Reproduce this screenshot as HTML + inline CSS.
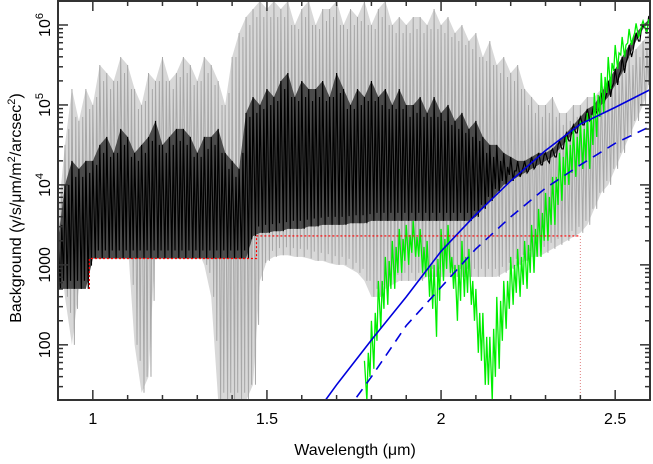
<!DOCTYPE html>
<html><head><meta charset="utf-8"><style>
body{margin:0;background:#fff;}
svg{display:block;font-family:"Liberation Sans",sans-serif;}
</style></head><body>
<svg id="chart" width="653" height="464" viewBox="0 0 653 464">
<defs><clipPath id="pc"><rect x="58" y="1" width="592" height="399"/></clipPath></defs>
<rect x="0" y="0" width="653" height="464" fill="#fff"/>
<g id="plot" clip-path="url(#pc)"></g>
<g id="axes"></g>
<text x="355" y="455" font-size="16" text-anchor="middle" fill="#000">Wavelength (μm)</text>
<text transform="translate(21,208) rotate(-90)" font-size="16" text-anchor="middle" fill="#000">Background (γ/s/μm/m<tspan dy="-6" font-size="11">2</tspan><tspan dy="6">/arcsec</tspan><tspan dy="-6" font-size="11">2</tspan><tspan dy="6">)</tspan></text>
</svg>
<script>
// wavelength grid (µm), step 0.02 from 0.90 to 2.60
const lam = [];
for (let i = 0; i <= 85; i++) lam.push(+(0.9 + i * 0.02).toFixed(2));
// log10 values
const grayHiLog = [3.6,4.5,5.2,4.8,5.2,5.0,5.5,5.4,5.3,5.6,5.5,5.2,5.0,5.4,5.3,5.6,5.3,5.4,5.6,5.5,5.3,5.6,5.5,5.3,5.0,5.6,5.9,6.1,6.2,6.3,6.2,6.3,6.2,6.3,6.0,6.2,6.3,6.0,6.2,6.2,6.3,6.0,6.2,6.1,6.3,6.0,6.2,6.3,6.0,6.1,6.0,6.1,6.1,6.0,6.2,6.0,6.1,5.9,6.0,5.8,5.9,5.6,5.8,5.5,5.6,5.4,5.5,5.2,5.1,5.0,5.0,5.1,4.9,4.9,5.0,5.0,5.1,5.1,5.2,5.3,5.4,5.5,5.6,5.7,5.8,5.9];
const grayLoLog = [3.4,2.6,2.0,2.7,2.9,3.2,3.4,3.4,3.4,3.4,3.3,2.0,1.4,1.6,3.3,3.4,3.5,3.4,3.4,3.3,3.2,3.0,2.6,1.3,1.3,1.3,1.3,1.3,1.5,2.8,3.05,3.1,3.12,3.12,3.1,3.1,3.08,3.05,3.05,3.02,3.0,3.0,2.95,2.9,2.8,2.6,2.6,2.7,2.75,2.8,2.8,2.8,2.8,2.85,2.85,2.85,2.85,2.85,2.85,2.85,2.85,2.85,2.85,2.85,2.9,2.95,3.0,3.05,3.1,3.1,3.15,3.2,3.25,3.3,3.35,3.4,3.5,3.7,3.9,4.0,4.2,4.4,4.6,4.8,5.0,5.3];
const blackHiLog = [3.3,4.0,4.3,4.2,4.3,4.3,4.5,4.6,4.4,4.7,4.6,4.4,4.5,4.6,4.8,4.5,4.6,4.7,4.7,4.6,4.4,4.6,4.6,4.7,4.4,4.3,4.2,4.9,5.1,5.0,5.2,5.1,5.3,5.4,5.1,5.3,5.2,5.2,5.3,5.1,5.4,5.2,5.0,5.2,5.1,5.3,5.1,5.2,5.0,5.2,5.0,5.0,5.1,4.9,5.1,4.9,5.0,4.8,4.9,4.7,4.8,4.6,4.5,4.5,4.4,4.35,4.3,4.3,4.35,4.4,4.4,4.45,4.55,4.65,4.75,4.85,4.95,5.0,5.15,5.3,5.45,5.6,5.75,5.9,6.0,6.08];
const blackLoLog = [2.7,2.7,2.7,2.7,2.7,3.08,3.08,3.08,3.08,3.08,3.08,3.08,3.08,3.08,3.08,3.08,3.08,3.08,3.08,3.08,3.08,3.08,3.08,3.08,3.08,3.08,3.08,3.08,3.36,3.4,3.4,3.42,3.42,3.45,3.45,3.45,3.48,3.48,3.5,3.5,3.5,3.5,3.52,3.52,3.52,3.55,3.55,3.55,3.55,3.55,3.55,3.55,3.55,3.55,3.55,3.55,3.55,3.55,3.55,3.55,3.6,3.7,3.8,3.9,4.0,4.05,4.1,4.15,4.2,4.25,4.3,4.35,4.45,4.55,4.65,4.75,4.8,4.9,5.0,5.1,5.25,5.4,5.6,5.8,5.95,6.05];
// green: 1.78 .. 2.60
const greenLam = [];
for (let i = 0; i <= 41; i++) greenLam.push(+(1.78 + i * 0.02).toFixed(2));
const greenHiLog = [1.8,2.3,2.8,3.1,3.3,3.45,3.5,3.55,3.45,3.3,3.0,3.45,3.5,3.0,3.3,3.2,2.7,2.4,2.1,2.6,2.8,3.1,3.2,3.3,3.5,3.7,3.9,4.1,4.4,4.6,4.7,4.8,4.9,5.15,5.4,5.6,5.75,5.85,5.95,6.02,6.05,6.07];
const greenLoLog = [1.3,1.7,2.2,2.5,2.7,2.9,3.0,3.1,2.9,2.6,2.1,2.8,2.9,2.3,2.6,2.5,1.9,1.5,1.3,1.7,2.2,2.5,2.6,2.7,2.9,3.1,3.3,3.5,3.8,4.0,4.1,4.2,4.2,4.6,4.9,5.2,5.45,5.6,5.75,5.85,5.95,5.98];
// blue model curves
const blueLam = [1.6,1.7,1.8,1.9,2.0,2.1,2.2,2.3,2.4,2.5,2.6];
const blueLog = [0.9,1.5,2.06,2.6,3.17,3.63,4.05,4.43,4.76,4.97,5.19];
const dashLam = [1.7,1.75,1.8,1.9,2.0,2.1,2.2,2.3,2.4,2.5,2.6];
const dashLog = [1.0,1.3,1.6,2.24,2.72,3.2,3.6,3.96,4.25,4.52,4.73];
// red threshold steps
const redLam = [0.99,1.47,2.40];
const redVal = [500,1200,2300];
// axis ticks
const xMajor = [1,1.5,2,2.5];
const xLabels = ["1","1.5","2","2.5"];
const yMajorExp = [2,3,4,5,6];

const X0=58,X1=650,Y0=1,Y1=400, LMIN=0.9,LMAX=2.6, EMIN=1.31,EMAX=6.3;
const sx = l => X0 + (l-LMIN)/(LMAX-LMIN)*(X1-X0);
const sy = e => Y1 - (e-EMIN)/(EMAX-EMIN)*(Y1-Y0);
const NS='http://www.w3.org/2000/svg';
const plot=document.getElementById('plot'), axes=document.getElementById('axes');
function mk(tag, parent, attrs){const el=document.createElementNS(NS,tag);for(const k in attrs)el.setAttribute(k,attrs[k]);parent.appendChild(el);return el;}

function band(L, hi, lo, fill, stroke, sw, name){
  let pts=[];
  for(let i=0;i<L.length;i++)pts.push(sx(L[i])+','+sy(hi[i]));
  for(let i=L.length-1;i>=0;i--)pts.push(sx(L[i])+','+sy(lo[i]));
  const p=mk('polygon',plot,{points:pts.join(' '),fill:fill,stroke:'none'});
  
  
  let z=[];
  for(let i=0;i<L.length;i++){
    const d=(i<L.length-1)?(L[i+1]-L[i]):0;
    z.push(sx(L[i])+','+sy(hi[i]));
    z.push(sx(L[i]+d*0.35)+','+sy(lo[i]));
    if(i<L.length-1){
      z.push(sx(L[i]+d*0.55)+','+sy((hi[i]+hi[i+1])/2-0.15));
      z.push(sx(L[i]+d*0.8)+','+sy((lo[i]+lo[i+1])/2+0.1));
    }
  }
  const l=mk('polyline',plot,{points:z.join(' '),fill:'none',stroke:stroke,'stroke-width':sw});
  
  
}
band(lam, grayHiLog, grayLoLog, '#d8d8d8', '#a8a8a8', 1, 'gray-spectrum');
band(lam, blackHiLog, blackLoLog, '#4a4a4a', '#000', 1.2, 'black-spectrum');
band(greenLam, greenHiLog, greenLoLog, 'none', '#00ee00', 1.3, 'green-spectrum');

function curve(L, V, dash, name){
  const pts=L.map((l,i)=>sx(l)+','+sy(V[i])).join(' ');
  const a={points:pts,fill:'none',stroke:'#0000dd','stroke-width':1.6};
  if(dash)a['stroke-dasharray']='10,7';
  const c=mk('polyline',plot,a);
  
  
}
curve(blueLam, blueLog, false, 'blue-model-solid');
curve(dashLam, dashLog, true, 'blue-model-dashed');

// red dotted steps
let rp=[];
for(let i=0;i<redLam.length;i++){
  rp.push(sx(redLam[i])+','+sy(Math.log10(redVal[i])));
  if(i+1<redVal.length) rp.push(sx(redLam[i])+','+sy(Math.log10(redVal[i+1])));
}
const red=mk('polyline',plot,{points:rp.join(' '),fill:'none',stroke:'#ff0000','stroke-width':1.2,'stroke-dasharray':'2,2'});


const vl=mk('line',plot,{x1:sx(redLam[2]),x2:sx(redLam[2]),y1:sy(Math.log10(redVal[2])),y2:Y1,stroke:'#e08080','stroke-width':1,'stroke-dasharray':'1,2'});



// frame
const fr=mk('rect',axes,{x:X0,y:Y0,width:X1-X0,height:Y1-Y0,fill:'none',stroke:'#333','stroke-width':2});


// x ticks
for(let i=0;i<=17;i++){
  const l=+(0.9+i*0.1).toFixed(1);
  const maj=xMajor.some(m=>Math.abs(m-l)<1e-6);
  const len=maj?10:5, x=sx(l);
  const t1=mk('line',axes,{x1:x,x2:x,y1:Y1,y2:Y1-len,stroke:'#333','stroke-width':1.5});
  
  
  const t2=mk('line',axes,{x1:x,x2:x,y1:Y0,y2:Y0+len,stroke:'#333','stroke-width':1.5});
  
  
}
xMajor.forEach((m,i)=>{
  const t=mk('text',axes,{x:sx(m),y:424,'font-size':16,'text-anchor':'middle',fill:'#000'});
  t.textContent=xLabels[i];
  
  
});
// y ticks
for(let e=1;e<=6;e++){
  for(let m=1;m<=9;m++){
    const v=e+Math.log10(m);
    if(v<EMIN||v>EMAX)continue;
    const y=sy(v), len=m===1?10:5;
    const a=mk('line',axes,{x1:X0,x2:X0+len,y1:y,y2:y,stroke:'#333','stroke-width':1.5});
    
    
    const b=mk('line',axes,{x1:X1,x2:X1-len,y1:y,y2:y,stroke:'#333','stroke-width':1.5});
    
    
  }
}
yMajorExp.forEach(e=>{
  const y=sy(e);
  const t=mk('text',axes,{transform:'translate(50,'+y+') rotate(-90)','font-size':16,'text-anchor':'middle',fill:'#000'});
  if(e<=3){t.textContent=String(Math.pow(10,e));}
  else{
    t.textContent='10';
    const s=mk('tspan',t,{dy:-7,'font-size':11});
    s.textContent=String(e);
  }
  
  
});
</script>
</body></html>
